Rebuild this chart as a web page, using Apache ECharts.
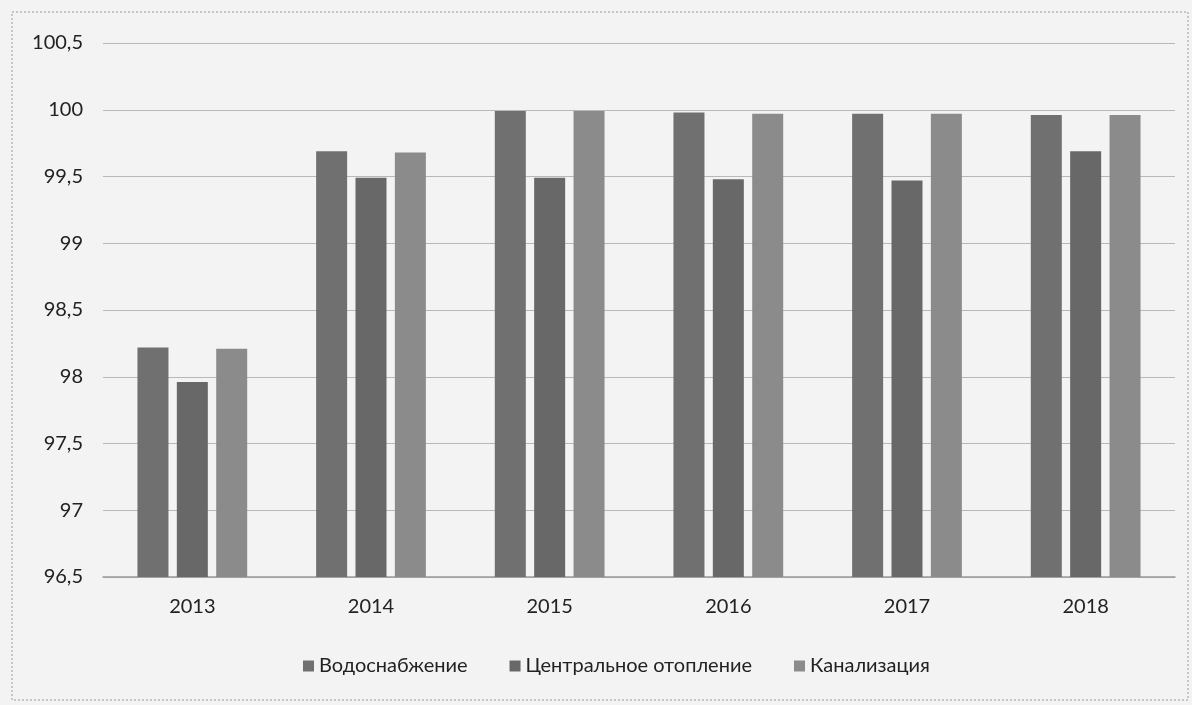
<!DOCTYPE html>
<html><head><meta charset="utf-8">
<script src="https://cdn.jsdelivr.net/npm/echarts@6/dist/echarts.min.js"></script>
<style>html,body{margin:0;padding:0;background:#f2f2f2;}#c{width:1192px;height:705px;}</style>
</head><body><div id="c"></div>
<script>
const categories = ['2013','2014','2015','2016','2017','2018'];
const seriesNames = ['Водоснабжение','Центральное отопление','Канализация'];
const water = [98.22, 99.69, 99.99, 99.98, 99.97, 99.96];
const heating = [97.96, 99.49, 99.49, 99.48, 99.47, 99.69];
const sewer = [98.21, 99.68, 99.99, 99.97, 99.97, 99.96];
const yTicks = [96.5, 97, 97.5, 98, 98.5, 99, 99.5, 100, 100.5];
const colors = ['#707070', '#686868', '#8b8b8b'];
const chart = echarts.init(document.getElementById('c'));
const font = 'Lato, "Open Sans", sans-serif';
chart.setOption({
  backgroundColor: '#f3f3f3',
  textStyle: {fontFamily: font},
  graphic: [{type:'rect', shape:{x:12,y:12,width:1176,height:688}, style:{fill:'none', stroke:'#9a9a9a', lineWidth:1, lineDash:[2,2]}}],
  grid: {left: 103, right: 17, top: 43, bottom: 128},
  legend: {
    data: seriesNames, bottom: 24, left: 298, itemWidth: 11, itemHeight: 11, itemGap: 42, icon: 'rect',
    textStyle: {fontSize: 20, color: '#222', fontFamily: font}
  },
  xAxis: {
    type: 'category', data: categories,
    axisLine: {lineStyle: {color: '#9a9a9a', width: 1.5}}, axisTick: {show: false},
    axisLabel: {fontSize: 20, color: '#222', margin: 20, fontFamily: font}
  },
  yAxis: {
    type: 'value', min: 96.5, max: 100.5, interval: 0.5,
    axisLine: {show: false}, axisTick: {show: false},
    splitLine: {lineStyle: {color: '#b8b8b8', width: 1}},
    axisLabel: {fontSize: 20, color: '#222', margin: 20, fontFamily: font,
      formatter: v => String(v).replace('.', ',')}
  },
  series: [water, heating, sewer].map((d, i) => ({
    name: seriesNames[i], type: 'bar', data: d, barWidth: 31, barGap: '27%',
    itemStyle: {color: colors[i]}
  }))
});
</script></body></html>
